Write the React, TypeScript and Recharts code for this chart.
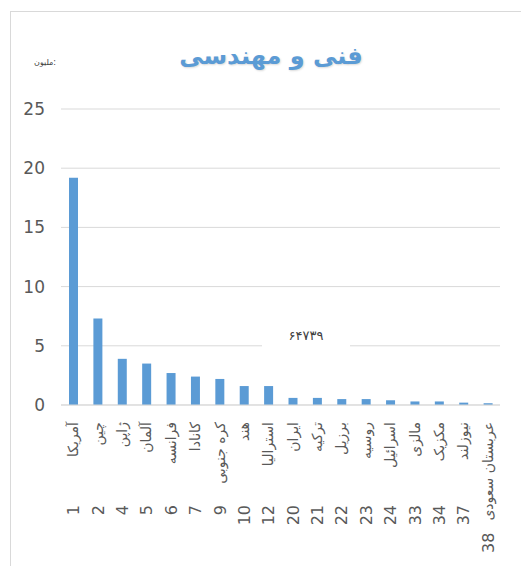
import { BarChart, Bar, XAxis, YAxis, CartesianGrid } from "recharts";

const countries = [
  "آمریکا",
  "چین",
  "ژاپن",
  "آلمان",
  "فرانسه",
  "کانادا",
  "کره جنوبی",
  "هند",
  "استرالیا",
  "ایران",
  "ترکیه",
  "برزیل",
  "روسیه",
  "اسرائیل",
  "مالزی",
  "مکزیک",
  "نیوزلند",
  "عربستان سعودی",
];
const ranks = [1, 2, 4, 5, 6, 7, 9, 10, 12, 20, 21, 22, 23, 24, 33, 34, 37, 38];
const values = [
  19.2, 7.3, 3.9, 3.5, 2.7, 2.4, 2.2, 1.6, 1.6, 0.6, 0.6, 0.5, 0.5, 0.4, 0.3,
  0.3, 0.2, 0.15,
];
const yTicks = [0, 5, 10, 15, 20, 25];

const title = "فنی و مهندسی";
const unitLabel = "ملیون:";
const totalLabel = "۶۴۷۳۹";

const chartData = countries.map((name, i) => ({
  name,
  rank: ranks[i],
  value: values[i],
}));

const labelFont = "14px 'DejaVu Sans'";
let ctx: CanvasRenderingContext2D | null = null;
const measure = (text: string) => {
  if (!ctx) ctx = document.createElement("canvas").getContext("2d");
  if (!ctx) return text.length * 8;
  ctx.font = labelFont;
  return ctx.measureText(text).width;
};

// name rotated next to the axis, rank number further down
const CountryTick = (props: any) => {
  const { x, y, payload } = props;
  const name = payload.value as string;
  const rank = ranks[payload.index];
  const nameTop = 9;
  const nameEnd = nameTop + measure(name);
  const rankTop = Math.max(92, nameEnd + 12);
  return (
    <g transform={`translate(${x},${y})`}>
      <text
        transform="rotate(-90)"
        x={-nameTop}
        y={5}
        textAnchor="end"
        fill="#595959"
        style={{ font: labelFont }}
      >
        {name}
      </text>
      <text
        transform="rotate(-90)"
        x={-rankTop}
        y={6}
        textAnchor="end"
        fill="#595959"
        style={{ fontFamily: "'DejaVu Sans'", fontSize: 16 }}
      >
        {rank}
      </text>
    </g>
  );
};

export default function App() {
  return (
    <div
      style={{
        position: "absolute",
        left: 0,
        top: 0,
        width: 521,
        height: 566,
        background: "#fff",
        overflow: "hidden",
      }}
    >
      <div
        style={{
          position: "absolute",
          left: 10,
          top: 11,
          width: 520,
          height: 560,
          borderLeft: "1px solid #d9d9d9",
          borderTop: "1px solid #d9d9d9",
        }}
      />
      <div
        style={{
          position: "absolute",
          left: 0,
          top: 0,
        }}
      >
        <BarChart
          width={521}
          height={566}
          data={chartData}
          margin={{ top: 109, right: 21, bottom: 0, left: 0 }}
        >
          <CartesianGrid vertical={false} stroke="#d9d9d9" />
          <XAxis
            dataKey="name"
            interval={0}
            tickLine={false}
            axisLine={{ stroke: "#d9d9d9" }}
            tick={<CountryTick />}
            height={161}
          />
          <YAxis
            width={61}
            domain={[0, 25]}
            ticks={yTicks}
            tickLine={false}
            axisLine={false}
            tickMargin={10}
            tick={{ fill: "#595959", fontSize: 17, fontFamily: "'DejaVu Sans'" }}
          />
          <Bar
            dataKey="value"
            fill="#5B9BD5"
            barSize={9}
            isAnimationActive={false}
          />
        </BarChart>
      </div>
      <div
        style={{
          position: "absolute",
          left: 0,
          width: 542,
          top: 42,
          textAlign: "center",
          fontFamily: "'DejaVu Sans'",
          fontWeight: "bold",
          fontSize: 24,
          color: "#5B9BD5",
          textShadow: "1px 1px 2px rgba(0,0,0,0.15)",
        }}
      >
        {title}
      </div>
      <div
        style={{
          position: "absolute",
          left: 34,
          top: 58,
          fontFamily: "'DejaVu Sans'",
          fontSize: 8,
          color: "#404040",
        }}
      >
        {unitLabel}
      </div>
      <div
        style={{
          position: "absolute",
          left: 262,
          top: 322,
          width: 88,
          height: 28,
          background: "#fff",
          textAlign: "center",
          lineHeight: "28px",
          fontFamily: "'DejaVu Sans'",
          fontSize: 13,
          color: "#404040",
        }}
      >
        {totalLabel}
      </div>
    </div>
  );
}
